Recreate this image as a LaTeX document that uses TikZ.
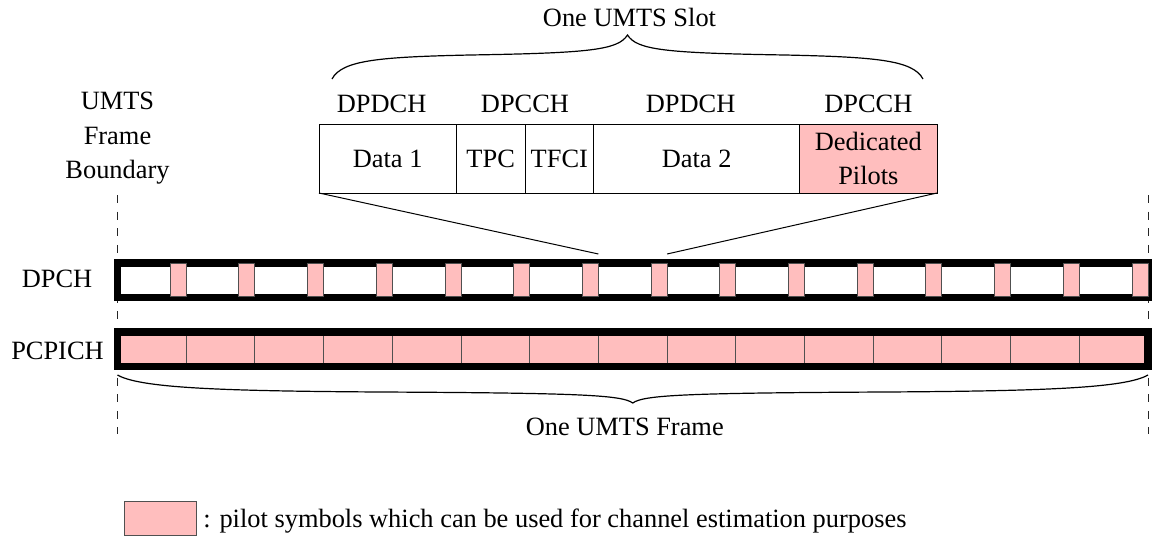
\documentclass[tikz,border=0pt]{standalone}
\usepackage{fontspec}
\setmainfont{Liberation Serif}
\usetikzlibrary{positioning,calc}
\definecolor{cpilot}{RGB}{255,190,190}
\definecolor{cedge}{RGB}{80,80,80}

\begin{document}
\begin{tikzpicture}[
  x=0.5pt, y=-0.5pt,
  font=\fontsize{13.2}{17.2}\selectfont,
  part/.style={rectangle, draw, line width=0.5pt, minimum height=34.5pt,
               inner sep=0pt, outer sep=0pt, align=center},
  pilot/.style={rectangle, draw=cedge, fill=cpilot, line width=0.5pt,
                minimum width=8pt, minimum height=16.5pt, inner sep=0pt, outer sep=0pt},
  cell/.style={rectangle, draw=cedge, fill=cpilot, line width=0.5pt,
               minimum width=34.35pt, minimum height=17.25pt, inner sep=0pt, outer sep=0pt},
  slotarea/.style={rectangle, minimum width=34.35pt, minimum height=17.25pt,
                   inner sep=0pt, outer sep=0pt},
  bar/.style={draw=black, line width=3.7pt},
  bound/.style={draw=black!85, line width=0.5pt, dash pattern=on 4pt off 4.3pt},
  zoomline/.style={line width=0.5pt},
  curly/.style={line width=0.6pt},
  lbl/.style={inner sep=0pt, align=center}
]
\useasboundingbox (0,0) rectangle (1153,536);

% ---------- frame boundaries ----------
\coordinate (bl1) at (117.5,195);
\coordinate (bl2) at (117.5,434);
\coordinate (br1) at (1148,195);
\coordinate (br2) at (1148,434);
\draw[bound] (bl1) -- (bl2);
\draw[bound] (br1) -- (br2);

\node[lbl, anchor=north] (fbound) at (117.5,92) {UMTS\\Frame\\Boundary};

% ---------- DPCH ----------
\foreach \k in {1,...,15}
  \node[slotarea] (s\k) at ({83.15+68.7*\k},280.25) {};
\draw[bar] (s1.north west) rectangle (s15.south east);
\foreach \k in {1,...,15}
  \node[pilot, anchor=east] (p\k) at (s\k.east) {};

\node[lbl] (dpch) at (57,279) {DPCH};

% ---------- PCPICH ----------
\foreach \k in {1,...,15}
  \node[cell] (c\k) at ({83.15+68.7*\k},349.25) {};
\draw[bar] (c1.north west) rectangle (c15.south east);

\node[lbl] (pcpich) at (57.5,351) {PCPICH};

% ---------- one slot, zoomed ----------
\node[part, minimum width=68.67pt] (data1) at (387.67,158.5) {Data 1};
\node[part, minimum width=34.33pt, right=0pt of data1] (tpc)  {TPC};
\node[part, minimum width=34.33pt, right=0pt of tpc]   (tfci) {TFCI};
\node[part, minimum width=103pt, right=0pt of tfci]    (data2) {Data 2};
\node[part, minimum width=68.67pt, fill=cpilot, right=0pt of data2] (pil)
  {Dedicated\\Pilots};

\node[lbl, above=5.5pt of data1, xshift=-3pt] (lab1) {DPDCH};
\node[lbl, above=5.5pt of tpc.north east]     (lab2) {DPCCH};
\node[lbl, above=5.5pt of data2, xshift=-3pt] (lab3) {DPDCH};
\node[lbl, above=5.5pt of pil]                (lab4) {DPCCH};

\draw[zoomline] (data1.south west) -- ($(s8.north west)+(0,-9)$);
\draw[zoomline] (pil.south east) -- ($(s8.north east)+(0,-9)$);

% ---------- braces ----------
\coordinate (sbl) at (332,79);
\coordinate (sbr) at (923,79);
\coordinate (sbt) at (627.5,35);
\draw[curly] (sbl) .. controls (342,60) and (380,57) .. (470,55)
  .. controls (590,53) and (618,50) .. (sbt)
  .. controls (637,50) and (665,53) .. (785,55)
  .. controls (875,57) and (913,60) .. (sbr);
\node[lbl, above=4pt of sbt, xshift=1pt] (slottxt) {One UMTS Slot};

\coordinate (fbl) at (117.5,375);
\coordinate (fbr) at (1148,375);
\coordinate (fbt) at (632.75,403);
\draw[curly] (fbl) .. controls (140,388) and (220,391) .. (380,392)
  .. controls (580,393) and (622,395) .. (fbt)
  .. controls (643.5,395) and (685.5,393) .. (885.5,392)
  .. controls (1045.5,391) and (1125.5,388) .. (fbr);
\node[lbl, below=7.5pt of fbt, xshift=-4pt] (frametxt) {One UMTS Frame};

% ---------- legend ----------
\node[pilot, minimum width=36pt, minimum height=17pt] (lp) at (160,518) {};
\node[lbl, right=3.5pt of lp, yshift=-1.5pt] (lptxt)
  {: pilot symbols which can be used for channel estimation purposes};

\end{tikzpicture}
\end{document}
